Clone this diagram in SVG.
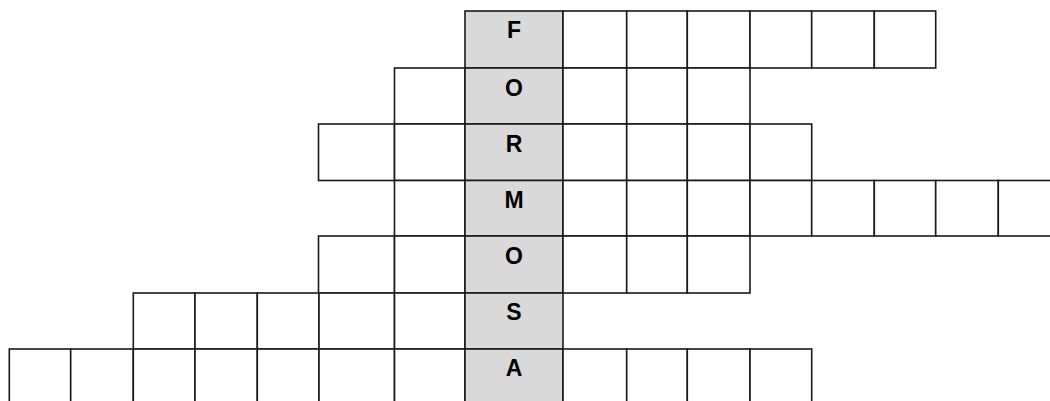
<svg xmlns="http://www.w3.org/2000/svg" width="1050" height="401" viewBox="0 0 1050 401">
<style>
.c{fill:#fff;stroke:#1a1a1a;stroke-width:1.6}
.g{fill:#d9d9d9;stroke:#1a1a1a;stroke-width:1.6}
.t{font-family:"Liberation Sans",Arial,sans-serif;font-weight:bold;font-size:23px;fill:#000;text-anchor:middle}
</style>
<rect width="1050" height="401" fill="#fff"/>
<g id="row1">
<rect class="g" x="465" y="11" width="98" height="57"/>
<rect class="c" x="563" y="11" width="63.7" height="57"/>
<rect class="c" x="626.7" y="11" width="60.6" height="57"/>
<rect class="c" x="687.3" y="11" width="62.7" height="57"/>
<rect class="c" x="750" y="11" width="61.7" height="57"/>
<rect class="c" x="811.7" y="11" width="62.6" height="57"/>
<rect class="c" x="874.3" y="11" width="61.4" height="57"/>
<text class="t" x="514" y="38">F</text>
</g>
<g id="row2">
<rect class="c" x="394.5" y="68" width="70.5" height="56"/>
<rect class="g" x="465" y="68" width="98" height="56"/>
<rect class="c" x="563" y="68" width="63.7" height="56"/>
<rect class="c" x="626.7" y="68" width="60.6" height="56"/>
<rect class="c" x="687.3" y="68" width="62.7" height="56"/>
<text class="t" x="514" y="96">O</text>
</g>
<g id="row3">
<rect class="c" x="318.5" y="124" width="76" height="56.5"/>
<rect class="c" x="394.5" y="124" width="70.5" height="56.5"/>
<rect class="g" x="465" y="124" width="98" height="56.5"/>
<rect class="c" x="563" y="124" width="63.7" height="56.5"/>
<rect class="c" x="626.7" y="124" width="60.6" height="56.5"/>
<rect class="c" x="687.3" y="124" width="62.7" height="56.5"/>
<rect class="c" x="750" y="124" width="61.7" height="56.5"/>
<text class="t" x="514" y="152">R</text>
</g>
<g id="row4">
<rect class="c" x="394.5" y="180.5" width="70.5" height="55.5"/>
<rect class="g" x="465" y="180.5" width="98" height="55.5"/>
<rect class="c" x="563" y="180.5" width="63.7" height="55.5"/>
<rect class="c" x="626.7" y="180.5" width="60.6" height="55.5"/>
<rect class="c" x="687.3" y="180.5" width="62.7" height="55.5"/>
<rect class="c" x="750" y="180.5" width="61.7" height="55.5"/>
<rect class="c" x="811.7" y="180.5" width="62.6" height="55.5"/>
<rect class="c" x="874.3" y="180.5" width="61.4" height="55.5"/>
<rect class="c" x="935.7" y="180.5" width="62.6" height="55.5"/>
<rect class="c" x="998.3" y="180.5" width="62" height="55.5"/>
<text class="t" x="514" y="208">M</text>
</g>
<g id="row5">
<rect class="c" x="318.5" y="236" width="76" height="57"/>
<rect class="c" x="394.5" y="236" width="70.5" height="57"/>
<rect class="g" x="465" y="236" width="98" height="57"/>
<rect class="c" x="563" y="236" width="63.7" height="57"/>
<rect class="c" x="626.7" y="236" width="60.6" height="57"/>
<rect class="c" x="687.3" y="236" width="62.7" height="57"/>
<text class="t" x="514" y="264">O</text>
</g>
<g id="row6">
<rect class="c" x="133.3" y="293" width="61.7" height="56"/>
<rect class="c" x="195" y="293" width="62.3" height="56"/>
<rect class="c" x="257.3" y="293" width="61.7" height="56"/>
<rect class="c" x="319" y="293" width="75.5" height="56"/>
<rect class="c" x="394.5" y="293" width="70.5" height="56"/>
<rect class="g" x="465" y="293" width="98" height="56"/>
<text class="t" x="514" y="320">S</text>
</g>
<g id="row7">
<rect class="c" x="9.3" y="349" width="61.4" height="57"/>
<rect class="c" x="70.7" y="349" width="62.6" height="57"/>
<rect class="c" x="133.3" y="349" width="61.7" height="57"/>
<rect class="c" x="195" y="349" width="62.3" height="57"/>
<rect class="c" x="257.3" y="349" width="61.7" height="57"/>
<rect class="c" x="319" y="349" width="75.5" height="57"/>
<rect class="c" x="394.5" y="349" width="70.5" height="57"/>
<rect class="g" x="465" y="349" width="98" height="57"/>
<rect class="c" x="563" y="349" width="63.7" height="57"/>
<rect class="c" x="626.7" y="349" width="60.6" height="57"/>
<rect class="c" x="687.3" y="349" width="62.7" height="57"/>
<rect class="c" x="750" y="349" width="61.7" height="57"/>
<text class="t" x="514" y="376">A</text>
</g>
<g id="connectors"/>
</svg>
